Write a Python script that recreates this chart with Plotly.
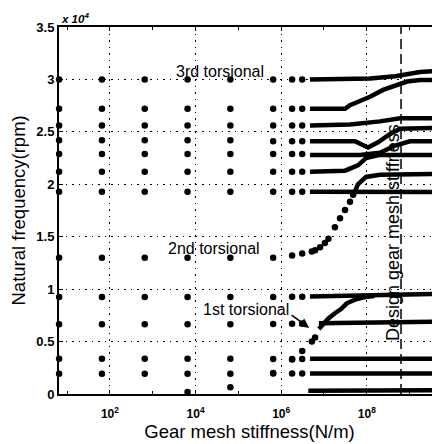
import math
import plotly.graph_objects as go

# ---------------- data ----------------
# stiffness columns sampled sparsely (N/m)
col_k = [6.5, 65, 650, 6.5e3, 6.5e4, 6.5e5, 1.8e6, 3.1e6]

# natural frequencies at those columns (x 10^4 rpm)
row_01 = [0.194, 0.194, 0.194, 0.194, 0.194, 0.195, 0.195, 0.195]
row_02 = [0.335, 0.335, 0.335, 0.335, 0.335, 0.333, 0.333, 0.333]
row_03 = [0.665, 0.665, 0.665, 0.665, 0.665, 0.667, 0.670, 0.672]
row_04 = [0.926, 0.926, 0.926, 0.926, 0.926, 0.926, 0.928, 0.928]
row_05 = [1.30, 1.30, 1.30, 1.30, 1.30, 1.30, 1.32, 1.34]
row_06 = [1.93, 1.93, 1.93, 1.93, 1.93, 1.93, 1.93, 1.93]
row_07 = [2.12, 2.12, 2.12, 2.12, 2.12, 2.12, 2.12, 2.12]
row_08 = [2.29, 2.29, 2.29, 2.29, 2.29, 2.29, 2.29, 2.29]
row_09 = [2.42, 2.42, 2.42, 2.42, 2.42, 2.41, 2.41, 2.41]
row_10 = [2.56, 2.56, 2.56, 2.56, 2.56, 2.56, 2.56, 2.56]
row_11 = [2.72, 2.72, 2.72, 2.72, 2.72, 2.72, 2.72, 2.72]
row_12 = [3.00, 3.00, 3.00, 3.00, 3.00, 3.00, 3.00, 3.00]
tors1_low = [None, None, None, 0.02, 0.065, 0.20, 0.33, 0.41]

# isolated dots in the transition region
tors1_dot_k = [5.2e6, 6.2e6]
tors1_dot_f = [0.50, 0.54]
tors2_dot_k = [5.2e6, 6.2e6, 8.1e6, 1.05e7, 1.27e7, 1.8e7, 2.37e7, 3.1e7, 4.05e7, 4.8e7]
tors2_dot_f = [1.36, 1.37, 1.40, 1.44, 1.48, 1.59, 1.675, 1.755, 1.834, 1.90]

# densely sampled branches (k in N/m, f in 10^4 rpm)
br_00_k = [4.3e6, 6e9];  br_00_f = [0.030, 0.035]
br_01_k = [4.7e6, 6e9];  br_01_f = [0.195, 0.195]
br_02_k = [4.7e6, 6e9];  br_02_f = [0.335, 0.335]
br_03_k = [7.6e6, 6e9];  br_03_f = [0.675, 0.690]
br_04_k = [4.7e6, 2.03e8, 6e9]; br_04_f = [0.930, 0.940, 0.955]
br_t1_k = [7.6e6, 9.5e6, 1.27e7, 1.8e7, 2.5e7, 3.4e7, 5.3e7, 9.1e7, 1.5e8]
br_t1_f = [0.62, 0.67, 0.72, 0.77, 0.81, 0.865, 0.90, 0.925, 0.935]
br_t2_k = [5.3e7, 6.2e7, 9.6e7, 2.03e8, 6e9]
br_t2_f = [1.93, 2.00, 2.07, 2.09, 2.10]
br_06_k = [4.7e6, 6e9];  br_06_f = [1.93, 1.925]
br_07_k = [4.7e6, 3.1e7, 6.2e7, 9.6e7, 2.03e8, 6e9]
br_07_f = [2.12, 2.13, 2.18, 2.25, 2.28, 2.28]
br_08_k = [4.7e6, 6.9e7, 2.03e8, 4.6e8, 1.02e9, 6e9]
br_08_f = [2.28, 2.28, 2.30, 2.37, 2.41, 2.41]
br_09_k = [4.7e6, 5.3e7, 1.07e8, 1.83e8, 3.5e8, 6.0e8, 6e9]
br_09_f = [2.41, 2.41, 2.35, 2.40, 2.48, 2.53, 2.54]
br_10_k = [4.7e6, 4.05e7, 2.03e8, 6.0e8, 6e9]
br_10_f = [2.56, 2.57, 2.60, 2.63, 2.63]
br_11_k = [4.7e6, 3.1e7, 4.05e7, 1.19e8, 2.4e8, 5.1e8, 8.7e8, 1.75e9, 6e9]
br_11_f = [2.72, 2.72, 2.755, 2.835, 2.90, 2.947, 2.98, 2.995, 2.995]
br_12_k = [4.7e6, 1.19e8, 4.6e8, 7.8e8, 1.75e9, 6e9]
br_12_f = [3.00, 3.01, 3.03, 3.05, 3.07, 3.085]

design_k = 6.3e8
x_tick_vals = [1e2, 1e4, 1e6, 1e8]
x_tick_text = ["<b>10<sup>2</sup></b>", "<b>10<sup>4</sup></b>",
               "<b>10<sup>6</sup></b>", "<b>10<sup>8</sup></b>"]
x_minor_vals = [1e1, 1e3, 1e5, 1e7, 1e9]
y_tick_vals = [0, 0.5, 1, 1.5, 2, 2.5, 3, 3.5]
y_tick_text = ["<b>0</b>", "<b>0.5</b>", "<b>1</b>", "<b>1.5</b>",
               "<b>2</b>", "<b>2.5</b>", "<b>3</b>", "<b>3.5</b>"]

# ---------------- figure ----------------
FONT = "Liberation Sans, Arial, sans-serif"
fig = go.Figure()

rows = [row_01, row_02, row_03, row_04, row_05, row_06, row_07, row_08,
        row_09, row_10, row_11, row_12, tors1_low]
dx, dy = [], []
for r in rows:
    for k, f in zip(col_k, r):
        if f is not None:
            dx.append(k)
            dy.append(f)
dx += tors1_dot_k + tors2_dot_k
dy += tors1_dot_f + tors2_dot_f
fig.add_trace(go.Scatter(x=dx, y=dy, mode="markers", cliponaxis=False,
                         marker=dict(size=6.5, color="black", line=dict(width=0)),
                         showlegend=False))

branches = [(br_00_k, br_00_f), (br_01_k, br_01_f), (br_02_k, br_02_f),
            (br_03_k, br_03_f), (br_04_k, br_04_f), (br_t1_k, br_t1_f),
            (br_t2_k, br_t2_f), (br_06_k, br_06_f), (br_07_k, br_07_f),
            (br_08_k, br_08_f), (br_09_k, br_09_f), (br_10_k, br_10_f),
            (br_11_k, br_11_f), (br_12_k, br_12_f)]
for bk, bf in branches:
    fig.add_trace(go.Scatter(x=bk, y=bf, mode="lines",
                             line=dict(color="black", width=4.5),
                             showlegend=False))

# design stiffness dashed line
fig.add_trace(go.Scatter(x=[design_k, design_k], y=[0, 3.5], mode="lines",
                         line=dict(color="black", width=1.5, dash="10px,5px"),
                         showlegend=False))

anno_font = dict(family=FONT, size=16, color="black")
fig.add_annotation(x=math.log10(3.7e4), y=3.08, text="3rd torsional",
                   showarrow=False, font=anno_font)
fig.add_annotation(x=math.log10(2.7e4), y=1.383, text="2nd torsional",
                   showarrow=False, font=anno_font)
fig.add_annotation(x=math.log10(1.5e5), y=0.81, text="1st torsional",
                   showarrow=False, font=anno_font)
fig.add_annotation(x=math.log10(4.5e6), y=0.63, text="", showarrow=True,
                   ax=-19, ay=-14, arrowhead=2, arrowsize=1.2, arrowwidth=1.6,
                   arrowcolor="black")
fig.add_annotation(x=math.log10(4.1e8), y=1.535, text="Design gear mesh stiffness",
                   textangle=-90, showarrow=False,
                   font=dict(family=FONT, size=18, color="black"))
fig.add_annotation(xref="paper", yref="paper", x=0, y=1, xanchor="left",
                   yanchor="bottom", yshift=0,
                   text="<b><i>x 10<sup>4</sup></i></b>", showarrow=False,
                   font=dict(family=FONT, size=11.5, color="black"))
# y-axis title
fig.add_annotation(xref="paper", yref="paper", x=-0.1076, y=0.5,
                   xanchor="center", yanchor="middle", textangle=-90,
                   text="Natural frequency(rpm)", showarrow=False,
                   font=dict(family=FONT, size=18.5, color="black"))

fig.update_layout(
    template="none",
    width=432, height=436,
    margin=dict(l=51, r=0, t=19, b=50, pad=0, autoexpand=False),
    paper_bgcolor="white", plot_bgcolor="white",
    font=dict(family=FONT, color="black"),
    showlegend=False,
    xaxis=dict(
        type="log", range=[0.81, 9.71], automargin=False,
        tickmode="array", tickvals=x_tick_vals, ticktext=x_tick_text,
        tickfont=dict(family=FONT, size=12, color="black"),
        ticks="inside", ticklen=4, tickcolor="black", tickwidth=1,
        ticklabelstandoff=8,
        showline=True, linecolor="black", linewidth=2, mirror="allticks",
        showgrid=True, gridcolor="black", gridwidth=1, griddash="1.5px,5px",
        zeroline=False,
        minor=dict(tickmode="array", tickvals=x_minor_vals, ticks="inside",
                   ticklen=3, tickcolor="black", tickwidth=1, showgrid=False),
        title=dict(text="Gear mesh stiffness(N/m)", standoff=4,
                   font=dict(family=FONT, size=18.5, color="black")),
    ),
    yaxis=dict(
        range=[0, 3.5], automargin=False,
        tickmode="array", tickvals=y_tick_vals, ticktext=y_tick_text,
        tickfont=dict(family=FONT, size=13, color="black"),
        ticks="inside", ticklen=4, tickcolor="black", tickwidth=1,
        showline=True, linecolor="black", linewidth=2, mirror=False,
        showgrid=True, gridcolor="black", gridwidth=1, griddash="1.5px,5px",
        zeroline=False,
    ),
)

fig.write_html("out.html")
